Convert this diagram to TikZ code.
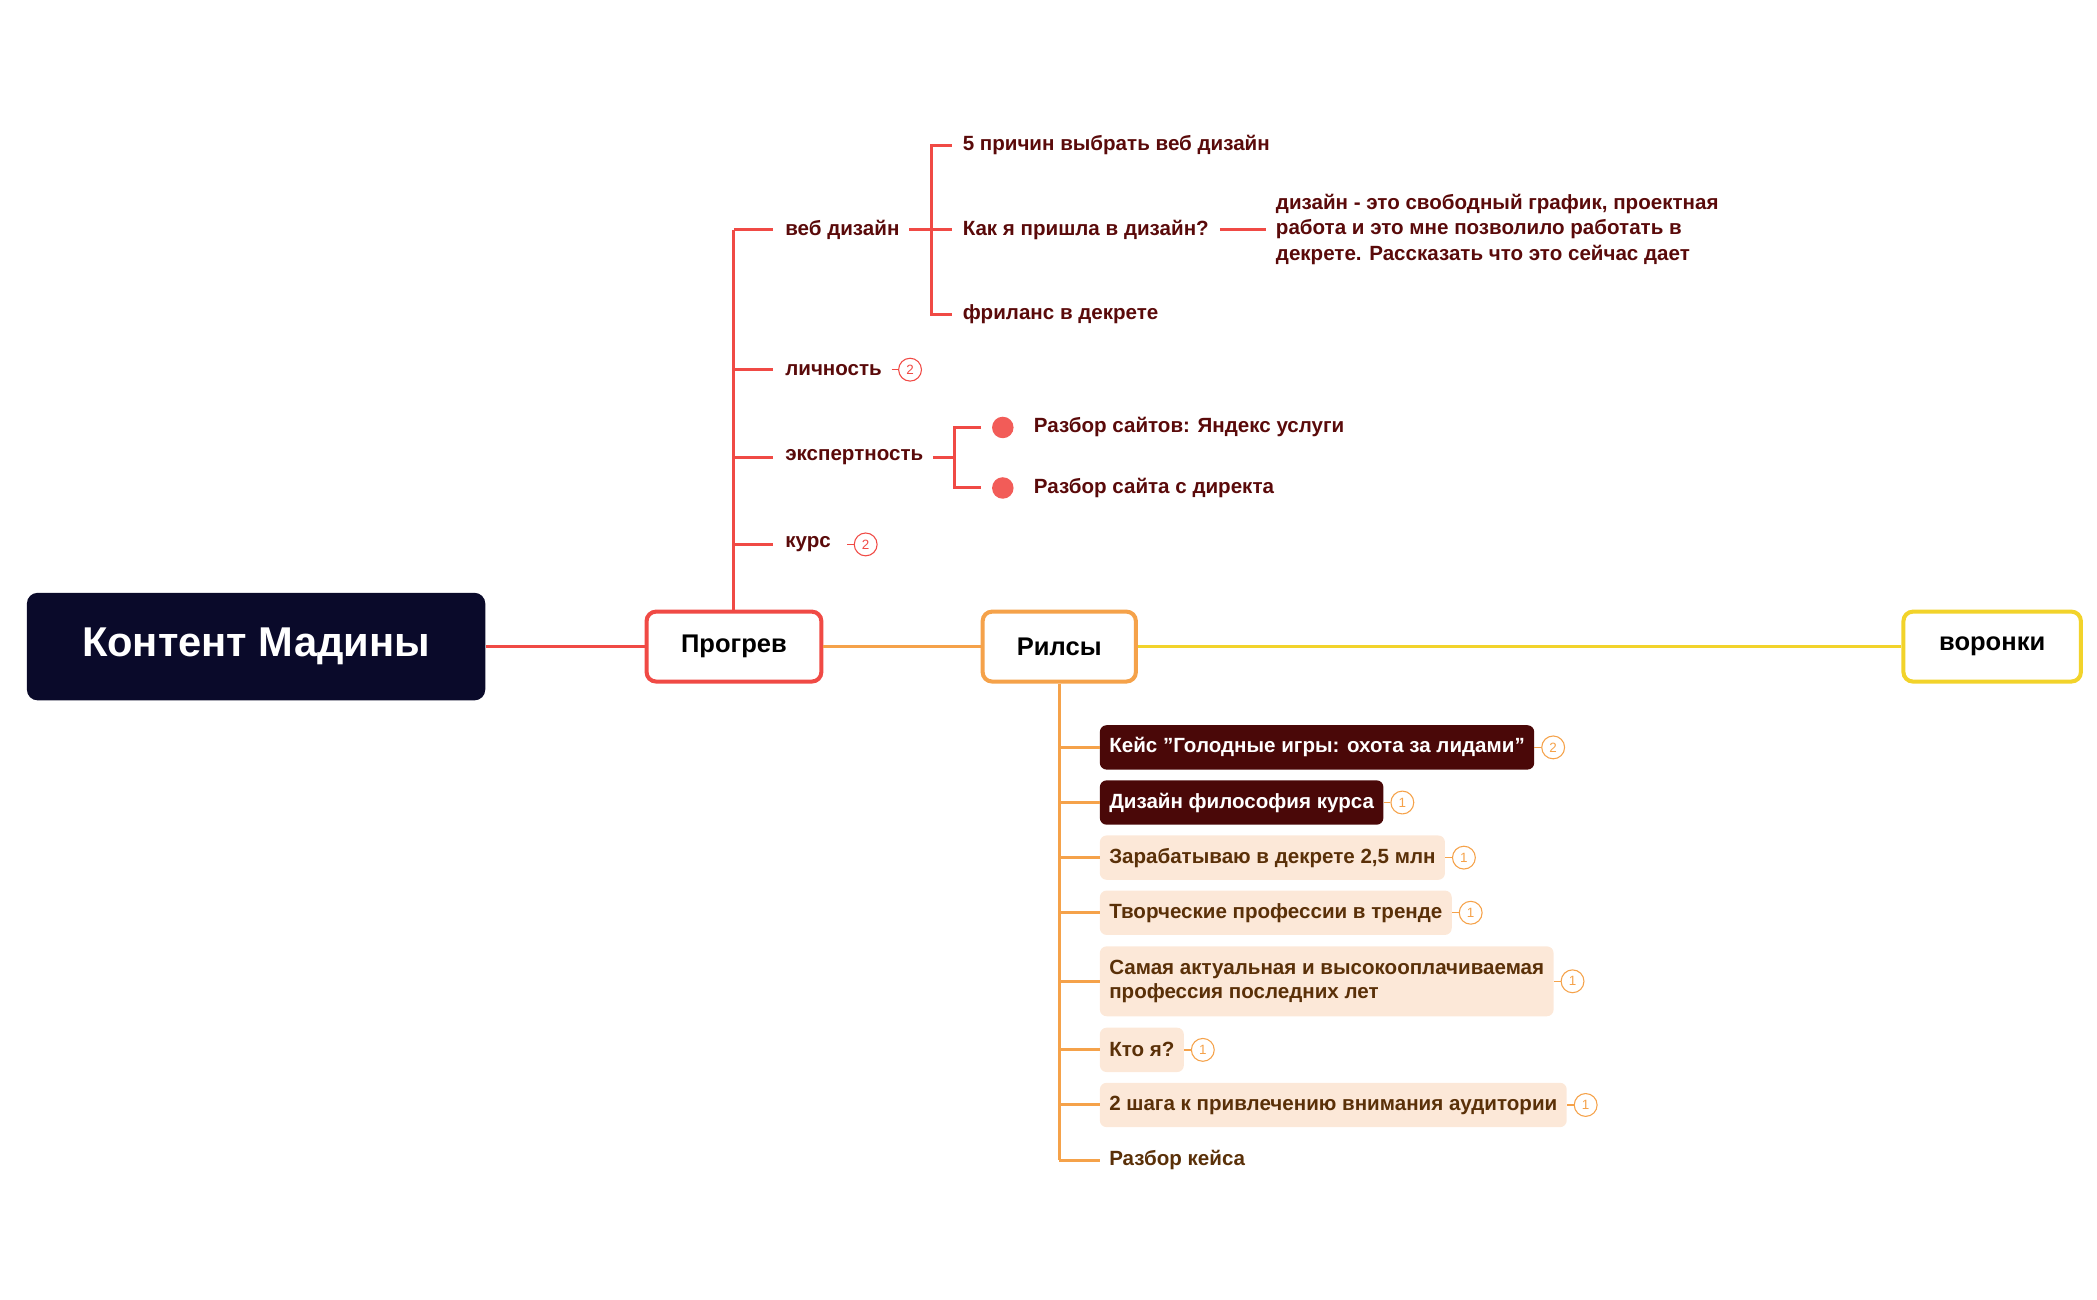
\documentclass[tikz,border=0pt]{standalone}
\usepackage{fontspec}
\setmainfont{Liberation Sans}
\begin{document}
\begin{tikzpicture}[x=1pt,y=-1pt,
 red/.style={draw=rd,line width=2.2pt},
 org/.style={draw=og,line width=2.2pt},
 lbl/.style={anchor=west,inner sep=0pt,text=tx,font=\fontsize{15.3}{18}\bfseries\selectfont},
 item/.style={anchor=west,rounded corners=5pt,inner xsep=7pt,minimum height=33pt,font=\fontsize{15.3}{18}\bfseries\selectfont,align=left},
 dk/.style={item,fill=dk,text=white},
 lt/.style={item,fill=lt,text=br},
 badge/.style={circle,draw=#1,text=#1,line width=0.8pt,inner sep=0pt,minimum size=17pt,font=\fontsize{10}{10}\selectfont},
 dot/.style={circle,fill=rd!90,inner sep=0pt,minimum size=16pt},
 big/.style={rounded corners=7pt,line width=3pt,fill=white,minimum height=52pt,font=\fontsize{19}{22}\bfseries\selectfont}]
\definecolor{rd}{HTML}{F04A45}\definecolor{og}{HTML}{F5A24A}\definecolor{yl}{HTML}{F2D32A}
\definecolor{tx}{HTML}{5A0A0A}\definecolor{dk}{HTML}{4A0808}\definecolor{lt}{HTML}{FCE8D8}\definecolor{br}{HTML}{5A3008}
\definecolor{nv}{HTML}{0A0A2A}
\useasboundingbox (0,0) rectangle (1560,967);
% main nodes
\node[fill=nv,rounded corners=8pt,minimum width=341pt,minimum height=80pt,text=white,font=\fontsize{31}{36}\bfseries\selectfont] at (190.5,481) (root) {Контент Мадины};
\node[big,draw=rd,minimum width=130pt] at (546,481) (pg) {Прогрев};
\node[big,draw=og,minimum width=114pt] at (788,481) (rl) {Рилсы};
\node[big,draw=yl,minimum width=132pt] at (1482,481) (vr) {воронки};
\draw[red] (root) -- (pg);
\draw[org] (pg) -- (rl);
\draw[draw=yl,line width=2.2pt] (rl) -- (vr);
% Progrev branch
\coordinate (pt) at (546,171);
\draw[red] (pg.north) -- (pt);
\node[lbl] (web) at (584,171) {веб дизайн};
\node[lbl] (lic) at (584,275) {личность};
\node[lbl] (exp) at (584,340) {экспертность};
\node[lbl] (kur) at (584,405) {курс};
\foreach \n/\y in {web/171,lic/275,exp/340,kur/405}{\draw[red] (546,\y) -- ([xshift=-9pt]\n.west);}
% web design
\node[lbl] (w1) at (716,108) {5 причин выбрать веб дизайн};
\node[lbl] (w2) at (716,171) {Как я пришла в дизайн?};
\node[lbl] (w3) at (716,234) {фриланс в декрете};
\draw[red] ([xshift=7pt]web.east) -- (693,171);
\draw[red] ([xshift=-8pt]w1.west) -- (693,108) -- (693,234) -- ([xshift=-8pt]w3.west);
\draw[red] (693,171) -- ([xshift=-8pt]w2.west);
\node[lbl,anchor=north west,align=left,font=\fontsize{15.3}{19}\bfseries\selectfont] (w2a) at (949,144) {дизайн - это свободный график, проектная\\работа и это мне позволило работать в\\декрете. Рассказать что это сейчас дает};
\draw[red] ([xshift=8pt]w2.east) -- (942,171);
% badges
\node[badge=rd] (b1) at (677,275) {2};
\draw[draw=rd,line width=1pt] ([xshift=7pt]lic.east) -- (b1);
\node[badge=rd] (b2) at (644,405) {2};
\draw[draw=rd,line width=1pt] ([xshift=12pt]kur.east) -- (b2);
% expertise
\node[dot] (d1) at (746,318) {};
\node[dot] (d2) at (746,363) {};
\node[lbl] (e1) at (769,318) {Разбор сайтов: Яндекс услуги};
\node[lbl] (e2) at (769,363) {Разбор сайта с директа};
\draw[red] ([xshift=7pt]exp.east) -- (710,340);
\draw[red] ([xshift=-8pt]d1.west) -- (710,318) -- (710,363) -- ([xshift=-8pt]d2.west);
% Rilsy branch
\coordinate (rb) at (788,863);
\draw[org] (rl.south) -- (rb);
\node[dk] (r1) at (818,556) {Кейс \char34Голодные игры: охота за лидами\char34};
\node[dk] (r2) at (818,597) {Дизайн философия курса};
\node[lt] (r3) at (818,638) {Зарабатываю в декрете 2,5 млн};
\node[lt] (r4) at (818,679) {Творческие профессии в тренде};
\node[lt,minimum height=52pt] (r5) at (818,730) {Самая актуальная и высокооплачиваемая\\профессия последних лет};
\node[lt] (r6) at (818,781) {Кто я?};
\node[lt] (r7) at (818,822) {2 шага к привлечению внимания аудитории};
\node[item,text=br] (r8) at (818,863) {Разбор кейса};
\foreach \n/\y in {r1/556,r2/597,r3/638,r4/679,r5/730,r6/781,r7/822,r8/863}{\draw[org] (788,\y) -- (\n.west);}
\foreach \n/\k in {r1/2,r2/1,r3/1,r4/1,r5/1,r6/1,r7/1}{
 \node[badge=og,anchor=west] (c\n) at ([xshift=5pt]\n.east) {\k};
 \draw[draw=og,line width=1pt] (\n.east) -- (c\n);}
\end{tikzpicture}
\end{document}
